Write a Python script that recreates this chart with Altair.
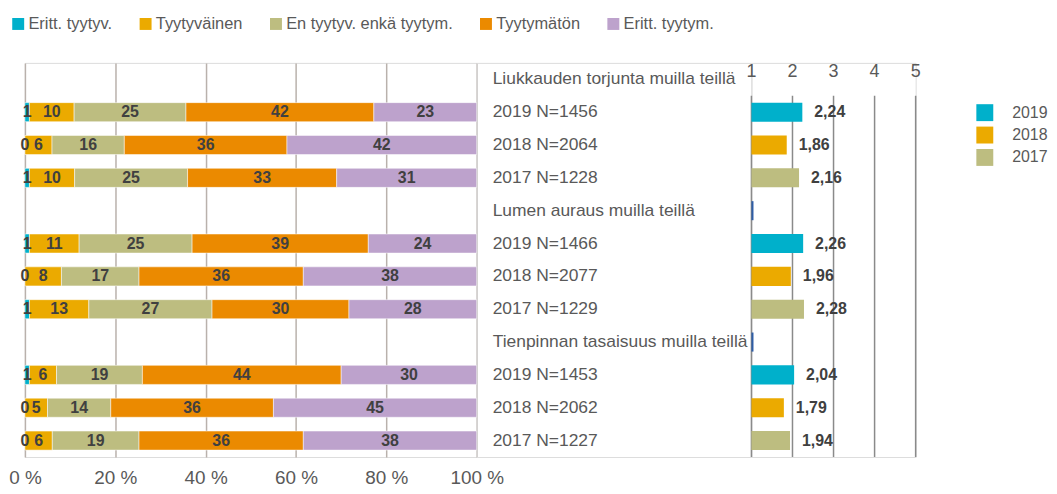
import altair as alt
import pandas as pd

# ---------------- data ----------------
rows = [
    "Liukkauden torjunta muilla teillä",
    "2019 N=1456", "2018 N=2064", "2017 N=1228",
    "Lumen auraus muilla teillä",
    "2019 N=1466", "2018 N=2077", "2017 N=1229",
    "Tienpinnan tasaisuus muilla teillä",
    "2019 N=1453", "2018 N=2062", "2017 N=1227",
]
bar_rows = [rows[i] for i in (1, 2, 3, 5, 6, 7, 9, 10, 11)]

categories = ["Eritt. tyytyv.", "Tyytyväinen", "En tyytyv. enkä tyytym.", "Tyytymätön", "Eritt. tyytym."]
cat_colors = ["#00B0CB", "#EBAA00", "#BDBD80", "#EB8A00", "#BDA2CC"]

v_eritt_tyytyv = [1, 0, 1, 1, 0, 1, 1, 0, 0]
v_tyytyvainen = [10, 6, 10, 11, 8, 13, 6, 5, 6]
v_en_kumpikaan = [25, 16, 25, 25, 17, 27, 19, 14, 19]
v_tyytymaton = [42, 36, 33, 39, 36, 30, 44, 36, 36]
v_eritt_tyytym = [23, 42, 31, 24, 38, 28, 30, 45, 38]

years = ["2019", "2018", "2017"] * 3
year_domain = ["2019", "2018", "2017"]
year_colors = ["#00B0CB", "#EBAA00", "#BDBD80"]
averages = [2.24, 1.86, 2.16, 2.26, 1.96, 2.28, 2.04, 1.79, 1.94]

header_rows = [rows[4], rows[8]]
header_marker = [1.05, 1.05]

pct_ticks = [0, 20, 40, 60, 80, 100]
scale_ticks = [1, 2, 3, 4, 5]

FONT = "Liberation Sans"
GREY = "#595959"
DARK = "#404040"

# ---------------- tables ----------------
series = [v_eritt_tyytyv, v_tyytyvainen, v_en_kumpikaan, v_tyytymaton, v_eritt_tyytym]
long = []
for ci, (cat, vals) in enumerate(zip(categories, series)):
    for r, v in zip(bar_rows, vals):
        long.append({"row": r, "cat": cat, "order": ci, "value": v})
left_df = pd.DataFrame(long)

right_df = pd.DataFrame({"row": bar_rows, "year": years, "avg": averages})
hdr_df = pd.DataFrame({"row": header_rows, "v": header_marker})
ticks_df = pd.DataFrame({"tick": scale_ticks, "top": rows[1], "hdr": rows[0]})
rows_df = pd.DataFrame({"row": rows})

yscale = alt.Scale(domain=rows, paddingInner=0, paddingOuter=0)
Y = alt.Y("row:N", scale=yscale, axis=None, sort=rows)

W_LEFT, W_MID, W_RIGHT, H = 454, 276, 165, 396
BAND = {"band": 0.58}

# ---------------- left stacked bars ----------------
left_base = alt.Chart(left_df).transform_joinaggregate(
    total="sum(value)", groupby=["row"]
).transform_window(
    cum="sum(value)", groupby=["row"], sort=[alt.SortField("order")], frame=[None, 0]
).transform_calculate(
    start="(datum.cum - datum.value) / datum.total * 100",
    end="datum.cum / datum.total * 100",
    mid="(datum.cum - datum.value / 2) / datum.total * 100",
)

left_x_scale = alt.Scale(domain=[0, 100], nice=False, zero=False)

left_bars = left_base.mark_bar(height=BAND, stroke="white", strokeWidth=0.5).encode(
    x=alt.X("start:Q", scale=left_x_scale,
            axis=alt.Axis(values=pct_ticks, labelExpr="datum.value + ' %'", grid=True,
                          gridColor="#B9B1AC", gridWidth=1.5, domain=False, ticks=False,
                          labelFontSize=19, labelColor=GREY, labelPadding=12, title=None,
                          labelFont=FONT, labelFlush=False, labelOverlap=False)),
    x2="end:Q",
    y=Y,
    color=alt.Color("cat:N", scale=alt.Scale(domain=categories, range=cat_colors),
                    legend=alt.Legend(orient="none", direction="horizontal", columns=5,
                                      legendX=-15, legendY=-47.5, title=None,
                                      symbolType="square", symbolSize=144, symbolStrokeWidth=0,
                                      labelFontSize=16.5, labelColor=GREY, labelFont=FONT,
                                      labelLimit=400, columnPadding=25, labelOffset=2)),
    order=alt.Order("order:Q"),
)

left_text = left_base.mark_text(fontWeight="bold", fontSize=16, color=DARK, font=FONT).encode(
    x=alt.X("mid:Q", scale=left_x_scale),
    y=Y,
    text=alt.Text("value:Q"),
)

left = alt.layer(left_bars, left_text).properties(width=W_LEFT, height=H)

# ---------------- middle labels ----------------
middle = alt.Chart(rows_df).mark_text(align="left", baseline="middle", fontSize=17.5,
                                      color=GREY, font=FONT).encode(
    x=alt.value(16),
    y=Y,
    text="row:N",
).properties(width=W_MID, height=H)

# ---------------- right averages ----------------
rscale = alt.Scale(domain=[1, 5], nice=False, zero=False)

r_rules = alt.Chart(ticks_df).mark_rule(color="#8A8A8A", strokeWidth=1.5).encode(
    x=alt.X("tick:Q", scale=rscale, axis=None),
    y=alt.Y("top:N", scale=yscale, axis=None, bandPosition=0),
    y2=alt.value("height"),
)

r_ticklabels = alt.Chart(ticks_df).mark_text(fontSize=18, color=GREY, baseline="middle",
                                             dy=-7, font=FONT).encode(
    x=alt.X("tick:Q", scale=rscale, axis=None),
    y=alt.Y("hdr:N", scale=yscale, axis=None),
    text="tick:Q",
)

r_bars = alt.Chart(right_df).mark_bar(height=BAND).encode(
    x=alt.X("avg:Q", scale=rscale, axis=None),
    x2=alt.datum(1),
    y=Y,
    color=alt.Color("year:N", scale=alt.Scale(domain=year_domain, range=year_colors),
                    legend=alt.Legend(orient="none", legendX=226, legendY=41.5, title=None,
                                      symbolType="square", symbolSize=289, symbolStrokeWidth=0,
                                      labelFontSize=16, labelColor=GREY, labelFont=FONT,
                                      labelOffset=19, rowPadding=5.5)),
)

r_labels = alt.Chart(right_df).transform_calculate(
    label="replace(format(datum.avg, '.2f'), '.', ',')"
).mark_text(align="left", baseline="middle", dx=12, fontWeight="bold", fontSize=16,
            color=DARK, font=FONT).encode(
    x=alt.X("avg:Q", scale=rscale, axis=None),
    y=Y,
    text="label:N",
)

r_hdr = alt.Chart(hdr_df).mark_bar(height=BAND, color="#2E5DA6").encode(
    x=alt.X("v:Q", scale=rscale, axis=None),
    x2=alt.datum(1),
    y=Y,
)

right = alt.layer(r_rules, r_ticklabels, r_hdr, r_bars, r_labels).properties(width=W_RIGHT, height=H)

chart = alt.hconcat(left, middle, right, spacing=0, bounds="flush").resolve_scale(
    x="independent", y="independent", color="independent"
).resolve_legend(color="independent").properties(
    padding={"left": 0, "top": 6, "right": 0, "bottom": 0}
).configure_view(stroke=None).configure(font=FONT)

chart.save("out.html", embed_options={"renderer": "svg", "actions": False})
